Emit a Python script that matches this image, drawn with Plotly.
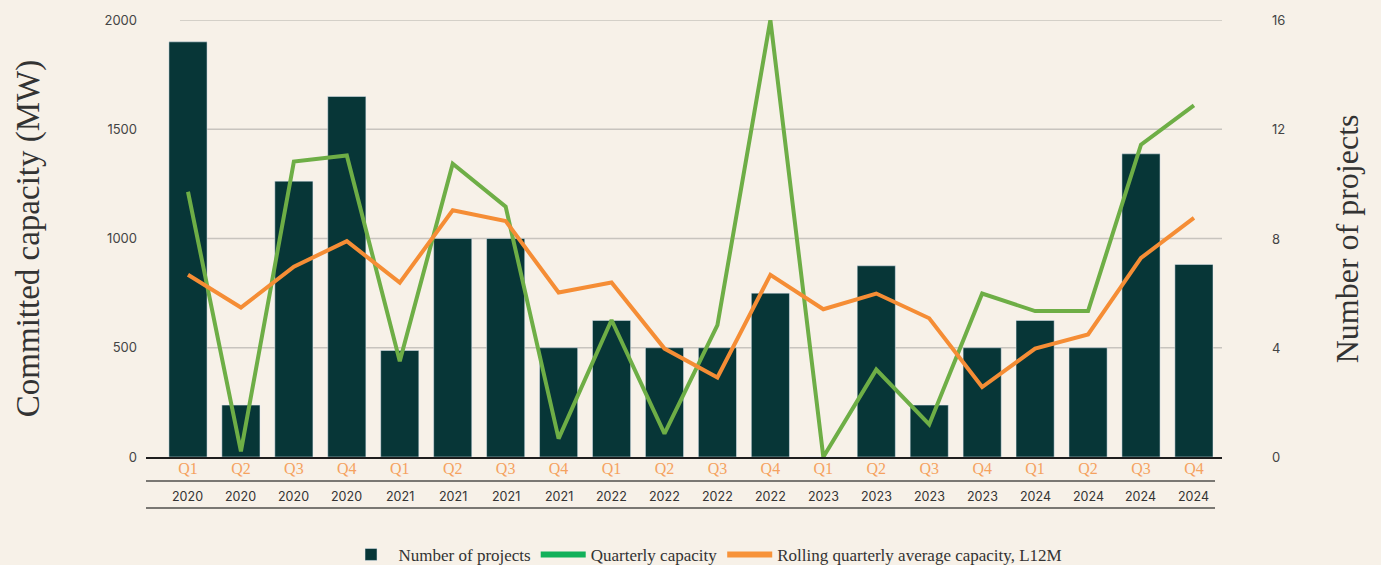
import plotly.graph_objects as go

# quarterly periods
periods = ['Q1 2020', 'Q2 2020', 'Q3 2020', 'Q4 2020',
           'Q1 2021', 'Q2 2021', 'Q3 2021', 'Q4 2021',
           'Q1 2022', 'Q2 2022', 'Q3 2022', 'Q4 2022',
           'Q1 2023', 'Q2 2023', 'Q3 2023', 'Q4 2023',
           'Q1 2024', 'Q2 2024', 'Q3 2024', 'Q4 2024']
quarter_labels = ['Q1', 'Q2', 'Q3', 'Q4'] * 5
year_labels = ['2020'] * 4 + ['2021'] * 4 + ['2022'] * 4 + ['2023'] * 4 + ['2024'] * 4
project_ticks = [0, 4, 8, 12, 16]
capacity_ticks = [0, 500, 1000, 1500, 2000]

# series
num_projects = [15.2, 1.9, 10.1, 13.2, 3.9, 8.0, 8.0, 4.0, 5.0, 4.0,
                4.0, 6.0, 0, 7.0, 1.9, 4.0, 5.0, 4.0, 11.1, 7.05]
quarterly_capacity = [1214, 26, 1352, 1380, 438, 1342, 1146, 84, 627, 107,
                      604, 2000, 0, 400, 149, 748, 668, 668, 1429, 1609]
rolling_avg = [834, 684, 871, 988, 798, 1129, 1080, 753, 799, 496,
               364, 834, 676, 748, 635, 320, 496, 561, 911, 1094]

bg = '#F7F1E8'
bar_col = '#073637'
green = '#6EAE46'
orange = '#F58D35'
serif = 'Liberation Serif'
sans = 'Inter'

fig = go.Figure()

fig.add_trace(go.Bar(x=periods, y=num_projects, marker_color=bar_col,
                     name='Number of projects', yaxis='y'))
fig.add_trace(go.Scatter(x=periods, y=quarterly_capacity, mode='lines',
                         line=dict(color=green, width=4), yaxis='y2',
                         name='Quarterly capacity', showlegend=False))
fig.add_trace(go.Scatter(x=periods, y=rolling_avg, mode='lines',
                         line=dict(color=orange, width=4), yaxis='y2',
                         name='Rolling quarterly average capacity, L12M', showlegend=False))
# legend-only entries
fig.add_trace(go.Scatter(x=[None], y=[None], mode='lines', line=dict(color='#12B15A', width=6),
                         name='Quarterly capacity', yaxis='y2'))
fig.add_trace(go.Scatter(x=[None], y=[None], mode='lines', line=dict(color='#F7933A', width=6),
                         name='Rolling quarterly average capacity, L12M', yaxis='y2'))

# year row under the quarter labels
for p, yr in zip(periods, year_labels):
    fig.add_annotation(x=p, xref='x', y=-0.0915, yref='paper', text=yr, showarrow=False,
                       yanchor='middle', font=dict(family=sans, size=12.5, color='#333333'))

# right-hand axis labels (number of projects)
for t in project_ticks:
    fig.add_annotation(x=1.0446, xref='paper', y=t, yref='y', text=str(t), showarrow=False,
                       xanchor='left', yanchor='middle', font=dict(family=sans, size=13, color='#444444'))
fig.add_annotation(x=1.116, xref='paper', y=0.5, yref='paper', text='Number of projects',
                   textangle=-90, showarrow=False, xanchor='center', yanchor='middle',
                   font=dict(family=serif, size=32, color='#333333'))

shapes = []
for v in project_ticks[1:]:
    shapes.append(dict(type='line', xref='paper', yref='y', x0=0.0316, x1=1, y0=v, y1=v,
                       line=dict(color='#C8C4BE', width=1.5), layer='below'))
for yy in [-0.0549, -0.1167]:
    shapes.append(dict(type='line', xref='paper', yref='paper', x0=0, x1=0.9935, y0=yy, y1=yy,
                       line=dict(color='#7A7873', width=1.8)))

fig.update_layout(
    width=1381, height=565,
    margin=dict(l=146, r=159, t=20, b=108, autoexpand=False),
    paper_bgcolor=bg, plot_bgcolor=bg,
    bargap=0.28,
    shapes=shapes,
    xaxis=dict(type='category', range=[-0.793, 19.53],
               tickvals=periods, ticktext=quarter_labels,
               tickfont=dict(family=serif, size=16, color='#F5A25F'),
               showline=True, linecolor='#1E1E1E', linewidth=1.5, showgrid=False,
               ticks='', ticklabelstandoff=-4, automargin=False),
    yaxis=dict(side='right', range=[0, 16], tickvals=project_ticks, showticklabels=False,
               showgrid=False, zeroline=False, showline=False, ticks='', automargin=False),
    yaxis2=dict(side='left', overlaying='y', range=[0, 2000], tickvals=capacity_ticks,
                showgrid=False, zeroline=False, ticks='', ticklabelstandoff=8, automargin=False,
                tickfont=dict(family=sans, size=13, color='#444444'),
                title=dict(text='Committed capacity (MW)', standoff=54,
                           font=dict(family=serif, size=33, color='#333333'))),
    legend=dict(orientation='h', x=0.52, xanchor='center', y=-0.224, yanchor='middle',
                itemwidth=45,
                font=dict(family=serif, size=17, color='#333333'), bgcolor='rgba(0,0,0,0)'),
    showlegend=True,
)

fig.write_html('out.html', config={'displayModeBar': False},
               post_script="document.body.style.margin='0';")
